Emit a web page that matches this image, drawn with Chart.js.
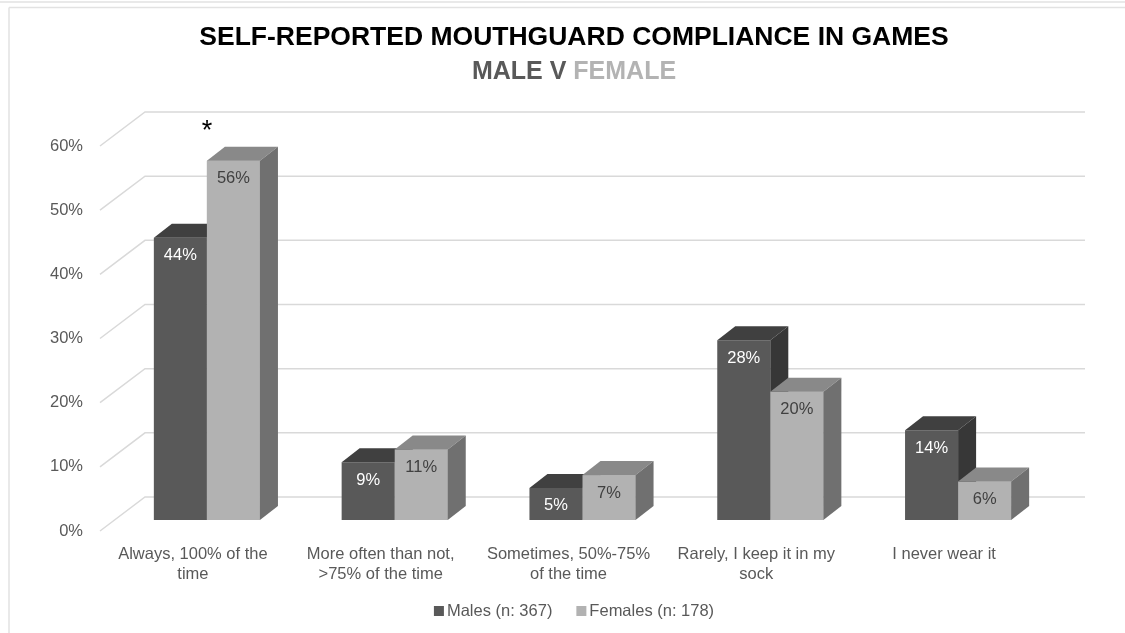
<!DOCTYPE html>
<html>
<head>
<meta charset="utf-8">
<script src="https://cdn.jsdelivr.net/npm/chart.js@4/dist/chart.umd.min.js"></script>
<style>
  body { margin: 0; background: #fff; }
  canvas { display: block; }
</style>
</head>
<body>
<canvas id="myChart" width="1125" height="633" style="width:1125px;height:633px"></canvas>
<script>
var categories = [
    ['Always, 100% of the', 'time'],
    ['More often than not,', '>75% of the time'],
    ['Sometimes, 50%-75%', 'of the time'],
    ['Rarely, I keep it in my', 'sock'],
    ['I never wear it']
];
var males = [44, 9, 5, 28, 14];
var females = [56, 11, 7, 20, 6];
var seriesNames = ['Males (n: 367)', 'Females (n: 178)'];
var yTicks = [0, 10, 20, 30, 40, 50, 60];
var titleText = 'SELF-REPORTED MOUTHGUARD COMPLIANCE IN GAMES';
var subtitleParts = ['MALE V ', 'FEMALE'];
var starCategory = 0; // asterisk over the first group

var FONT = "'Liberation Sans', Arial, sans-serif";
var maleCol = ['#595959', '#404040', '#373737'];   // front, top, side
var femaleCol = ['#b2b2b2', '#898989', '#707070'];
var depthX = 18, depthY = 14;    // bar depth
var wallY = 34, frontOff = 11;   // floor depth, tick labels below bar front

function drawFaces(c, bar, cols) {
    var x0 = bar.x - bar.width / 2, x1 = bar.x + bar.width / 2;
    c.fillStyle = cols[1];
    c.beginPath();
    c.moveTo(x0, bar.y);
    c.lineTo(x0 + depthX, bar.y - depthY);
    c.lineTo(x1 + depthX, bar.y - depthY);
    c.lineTo(x1, bar.y);
    c.closePath();
    c.fill();
    c.fillStyle = cols[2];
    c.beginPath();
    c.moveTo(x1, bar.y);
    c.lineTo(x1 + depthX, bar.y - depthY);
    c.lineTo(x1 + depthX, bar.base - depthY);
    c.lineTo(x1, bar.base);
    c.closePath();
    c.fill();
}

var threeD = {
    id: 'threeD',
    beforeDraw: function(chart) {
        var c = chart.ctx, w = chart.width, h = chart.height;
        c.save();
        c.strokeStyle = '#e2e2e2';
        c.lineWidth = 1.5;
        c.beginPath();
        c.moveTo(0, 2); c.lineTo(w, 2);
        c.moveTo(9, 7.5); c.lineTo(w, 7.5);
        c.moveTo(9, 7.5); c.lineTo(9, h);
        c.stroke();

        // titles
        var cx = 574;
        c.textAlign = 'center';
        c.textBaseline = 'middle';
        c.fillStyle = '#000';
        c.font = 'bold 26.5px ' + FONT;
        c.fillText(titleText, cx, 38);
        c.font = 'bold 25px ' + FONT;
        var w1 = c.measureText(subtitleParts[0]).width;
        var w2 = c.measureText(subtitleParts[1]).width;
        var sx = cx - (w1 + w2) / 2;
        c.textAlign = 'left';
        c.fillStyle = '#595959';
        c.fillText(subtitleParts[0], sx, 72);
        c.fillStyle = '#b3b3b3';
        c.fillText(subtitleParts[1], sx + w1, 72);

        // legend
        c.font = '16.5px ' + FONT;
        var cols = [maleCol[0], femaleCol[0]];
        var widths = seriesNames.map(function(s) { return c.measureText(s).width; });
        var total = widths[0] + widths[1] + 2 * 13 + 24;
        var lx = cx - total / 2, ly = 611;
        for (var i = 0; i < 2; i++) {
            c.fillStyle = cols[i];
            c.fillRect(lx, ly - 5, 10, 10);
            c.fillStyle = '#595959';
            c.fillText(seriesNames[i], lx + 13, ly);
            lx += 13 + widths[i] + 24;
        }
        c.restore();
    },
    beforeDatasetsDraw: function(chart) {
        var c = chart.ctx, y = chart.scales.y, a = chart.chartArea;
        c.save();
        c.strokeStyle = '#d9d9d9';
        c.lineWidth = 1.5;
        yTicks.forEach(function(v) {
            var py = y.getPixelForValue(v);
            c.beginPath();
            c.moveTo(a.left - 13, py + frontOff);
            c.lineTo(a.left + 32, py + frontOff - wallY);
            c.lineTo(a.right + 33, py + frontOff - wallY);
            c.stroke();
        });
        c.restore();
    },
    afterDatasetsDraw: function(chart) {
        var c = chart.ctx;
        var m = chart.getDatasetMeta(0).data, f = chart.getDatasetMeta(1).data;
        c.save();
        for (var i = 0; i < m.length; i++) {
            drawFaces(c, m[i], maleCol);
            // female front again so it covers the male side
            c.fillStyle = femaleCol[0];
            c.fillRect(f[i].x - f[i].width / 2, f[i].y, f[i].width, f[i].base - f[i].y);
            drawFaces(c, f[i], femaleCol);
        }
        c.font = '16.5px ' + FONT;
        c.textAlign = 'center';
        c.textBaseline = 'middle';
        for (var j = 0; j < m.length; j++) {
            c.fillStyle = '#ffffff';
            c.fillText(males[j] + '%', m[j].x, m[j].y + 18);
            c.fillStyle = '#404040';
            c.fillText(females[j] + '%', f[j].x, f[j].y + 18);
        }
        // significance marker
        var xs = chart.scales.x.getPixelForValue(starCategory);
        c.fillStyle = '#000';
        c.font = '27px ' + FONT;
        c.textBaseline = 'alphabetic';
        c.fillText('*', xs, f[starCategory].y - depthY - 8);
        c.restore();
    }
};

var ctx = document.getElementById('myChart').getContext('2d');
var chart = new Chart(ctx, {
    type: 'bar',
    data: {
        labels: categories,
        datasets: [{
            label: seriesNames[0],
            backgroundColor: maleCol[0],
            data: males
        }, {
            label: seriesNames[1],
            backgroundColor: femaleCol[0],
            data: females
        }]
    },
    options: {
        responsive: false,
        animation: false,
        layout: { padding: { left: 35, right: 73, top: 135, bottom: 0 } },
        plugins: {
            legend: { display: false },
            tooltip: { enabled: false },
            title: { display: false }
        },
        datasets: {
            bar: { categoryPercentage: 0.565, barPercentage: 1.0 }
        },
        scales: {
            x: {
                grid: { display: false, drawTicks: false },
                border: { display: false },
                ticks: {
                    color: '#595959',
                    font: { family: FONT, size: 16.5 },
                    padding: 25,
                    labelOffset: -14,
                    maxRotation: 0,
                    autoSkip: false
                },
                afterFit: function(scale) { scale.height = 113; }
            },
            y: {
                min: 0,
                max: 60,
                grid: { display: false, drawTicks: false },
                border: { display: false },
                ticks: {
                    stepSize: 10,
                    color: '#595959',
                    font: { family: FONT, size: 16.5 },
                    padding: 30,
                    labelOffset: frontOff,
                    callback: function(v) { return v + '%'; }
                },
                afterFit: function(scale) { scale.width = 78; }
            }
        }
    },
    plugins: [threeD]
});
</script>
</body>
</html>
